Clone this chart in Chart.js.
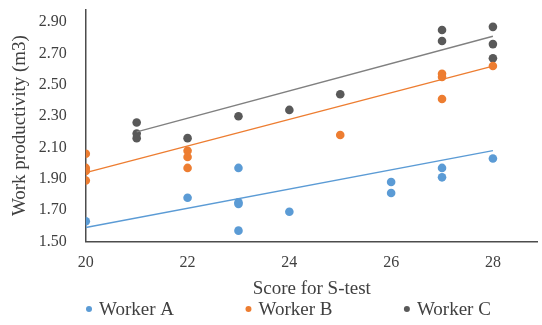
<!DOCTYPE html>
<html>
<head>
<meta charset="utf-8">
<script src="https://cdn.jsdelivr.net/npm/chart.js@4/dist/chart.umd.min.js"></script>
<style>
  html, body { margin: 0; padding: 0; background: #ffffff; }
</style>
</head>
<body>
<canvas id="grafico1" width="542" height="325"></canvas>
<script>
// nomes das series
var nomes = ['Worker A', 'Worker B', 'Worker C'];
var cores = ['#5B9BD5', '#ED7D31', '#595959'];
var coresLinha = ['#5B9BD5', '#ED7D31', '#808080'];

// Worker A
var notaA = [20, 22, 23, 23, 23, 23, 24, 26, 26, 27, 27, 28];
var prodA = [1.63, 1.78, 1.97, 1.75, 1.74, 1.57, 1.69, 1.88, 1.81, 1.97, 1.91, 2.03];

// Worker B
var notaB = [20, 20, 20, 20, 22, 22, 22, 25, 27, 27, 27, 28];
var prodB = [2.06, 1.97, 1.95, 1.89, 2.08, 2.04, 1.97, 2.18, 2.57, 2.55, 2.41, 2.62];

// Worker C
var notaC = [21, 21, 21, 22, 23, 24, 25, 27, 27, 28, 28, 28];
var prodC = [2.26, 2.19, 2.16, 2.16, 2.30, 2.34, 2.44, 2.85, 2.78, 2.87, 2.76, 2.67];

// linhas de tendencia (pontas)
var tendXA = [20, 28], tendYA = [1.59, 2.08];
var tendXB = [20, 28], tendYB = [1.94, 2.62];
var tendXC = [21, 28], tendYC = [2.20, 2.81];

// ticks dos eixos
var ticksX = [20, 22, 24, 26, 28];
var ticksY = [1.50, 1.70, 1.90, 2.10, 2.30, 2.50, 2.70, 2.90];

var tituloX = 'Score for S-test';
var tituloY = 'Work productivity (m3)';

function pares(xs, ys) {
    return xs.map(function (x, i) { return { x: x, y: ys[i] }; });
}

var corTexto = '#404040';
var fonte = '"Liberation Serif", "Times New Roman", serif';

// legenda embaixo, do jeito do excel
var legendaBaixo = {
    id: 'legendaBaixo',
    afterDraw: function (chart) {
        var ctx = chart.ctx;
        ctx.save();
        ctx.font = '19px ' + fonte;
        ctx.textBaseline = 'middle';
        var x = 89, y = 309;
        chart.data.datasets.forEach(function (ds) {
            if (!ds.naLegenda) return;
            ctx.fillStyle = ds.backgroundColor;
            ctx.beginPath();
            ctx.arc(x, y, 3, 0, Math.PI * 2);
            ctx.fill();
            ctx.fillStyle = corTexto;
            ctx.fillText(ds.label, x + 10, y + 1);
            x += 10 + ctx.measureText(ds.label).width + 74.5;
        });
        ctx.restore();
    }
};

function criarGrafico(nome) {
    var ctx = document.getElementById(nome).getContext('2d');
    var pontos = [[notaA, prodA], [notaB, prodB], [notaC, prodC]];
    var tend = [[tendXA, tendYA], [tendXB, tendYB], [tendXC, tendYC]];
    var datasets = [];

    // tendencias primeiro
    tend.forEach(function (t, i) {
        datasets.push({
            label: nomes[i] + ' trend',
            data: pares(t[0], t[1]),
            showLine: true,
            borderColor: coresLinha[i],
            backgroundColor: coresLinha[i],
            borderWidth: 1.3,
            pointRadius: 0,
            pointHoverRadius: 0,
            naLegenda: false
        });
    });
    pontos.forEach(function (p, i) {
        datasets.push({
            label: nomes[i],
            data: pares(p[0], p[1]),
            backgroundColor: cores[i],
            borderColor: cores[i],
            borderWidth: 0,
            pointRadius: 4.3,
            naLegenda: true
        });
    });

    var chart = new Chart(ctx, {
        type: 'scatter',
        data: { datasets: datasets },
        plugins: [legendaBaixo],
        options: {
            responsive: false,
            animation: false,
            layout: { padding: { top: 0, right: 0, bottom: 25, left: 0 } },
            plugins: {
                legend: { display: false },
                tooltip: { enabled: false }
            },
            scales: {
                x: {
                    type: 'linear',
                    min: 20,
                    max: 28.88,
                    afterBuildTicks: function (scale) {
                        scale.ticks = ticksX.map(function (v) { return { value: v }; });
                    },
                    grid: { display: false, drawTicks: true, tickLength: 11.4, tickColor: 'rgba(0,0,0,0)' },
                    border: { display: true, color: '#4d4d4d', width: 1.5 },
                    ticks: {
                        padding: 0,
                        color: corTexto,
                        font: { family: fonte, size: 16 },
                        callback: function (v) { return String(v); }
                    },
                    title: {
                        display: true,
                        text: tituloX,
                        color: corTexto,
                        font: { family: fonte, size: 19 },
                        padding: { top: 5, bottom: 0 }
                    }
                },
                y: {
                    type: 'linear',
                    min: 1.5,
                    max: 2.98,
                    afterBuildTicks: function (scale) {
                        scale.ticks = ticksY.map(function (v) { return { value: v }; });
                    },
                    grid: { display: false, drawTicks: true, tickLength: 19, tickColor: 'rgba(0,0,0,0)' },
                    border: { display: true, color: '#4d4d4d', width: 1.5 },
                    ticks: {
                        padding: 0,
                        color: corTexto,
                        font: { family: fonte, size: 16 },
                        callback: function (v) { return Number(v).toFixed(2); }
                    },
                    title: {
                        display: true,
                        text: tituloY,
                        color: corTexto,
                        font: { family: fonte, size: 19 },
                        padding: { top: 9, bottom: 7 }
                    }
                }
            }
        }
    });
    return chart;
}

criarGrafico('grafico1');
</script>
</body>
</html>
